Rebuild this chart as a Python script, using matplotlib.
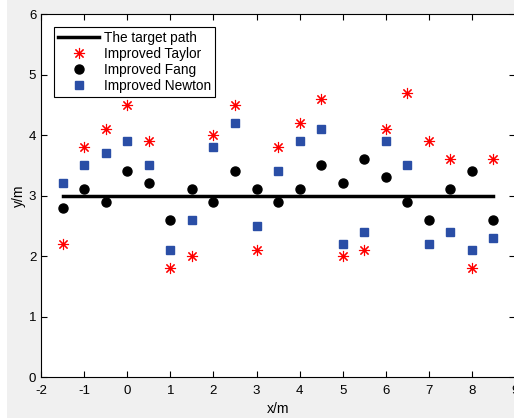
import numpy as np
import matplotlib.pyplot as plt
from matplotlib.patches import Rectangle

x = np.arange(-1.5, 9.0, 0.5)
taylor = [2.2, 3.8, 4.1, 4.5, 3.9, 1.8, 2.0, 4.0, 4.5, 2.1, 3.8,
          4.2, 4.6, 2.0, 2.1, 4.1, 4.7, 3.9, 3.6, 1.8, 3.6]
fang = [2.8, 3.1, 2.9, 3.4, 3.2, 2.6, 3.1, 2.9, 3.4, 3.1, 2.9,
        3.1, 3.5, 3.2, 3.6, 3.3, 2.9, 2.6, 3.1, 3.4, 2.6]
newton = [3.2, 3.5, 3.7, 3.9, 3.5, 2.1, 2.6, 3.8, 4.2, 2.5, 3.4,
          3.9, 4.1, 2.2, 2.4, 3.9, 3.5, 2.2, 2.4, 2.1, 2.3]
path_x = [-1.5, 8.5]
path_y = [3, 3]

plt.rcParams['font.family'] = ['Liberation Sans', 'DejaVu Sans']
plt.rcParams['font.size'] = 9
plt.rcParams['axes.unicode_minus'] = False

fig = plt.figure(figsize=(5.14, 4.18), dpi=100, facecolor='#f0f0f0')
# white strip on the left edge of the original screenshot
fig.patches.append(Rectangle((0, 0), 7 / 514, 1, transform=fig.transFigure,
                             facecolor='white', edgecolor='none', zorder=-1))
ax = fig.add_axes([0.08, 0.098, 0.922, 0.8685])

ax.plot(path_x, path_y, color='black', lw=2.5, label='The target path')
ax.plot(x, taylor, color='red', ms=8, mew=0.8, label='Improved Taylor',
        marker=(8, 2, 0), ls='none')
ax.plot(x, fang, 'o', color='black', ms=6.5, label='Improved Fang', ls='none')
ax.plot(x, newton, 's', color='#2a4ea6', ms=5.5, label='Improved Newton', ls='none')

ax.set_xlim(-2, 9)
ax.set_ylim(0, 6)
ax.set_xticks(range(-2, 10))
ax.set_yticks(range(0, 7))
ax.tick_params(direction='in', top=True, right=True, length=4, labelsize=9.5)
ax.tick_params(axis='x', pad=6)
ax.set_xlabel('x/m', fontsize=10, labelpad=3)
ax.set_ylabel('y/m', fontsize=10, labelpad=2)

leg = ax.legend(loc='upper left', bbox_to_anchor=(0.028, 0.965), fancybox=False,
                edgecolor='black', framealpha=1, fontsize=9.8, handlelength=3.0,
                borderpad=0.3, labelspacing=0.15, handletextpad=0.35,
                borderaxespad=0)
leg.get_frame().set_linewidth(0.8)

fig.savefig('out.png', dpi=100, facecolor=fig.get_facecolor())
